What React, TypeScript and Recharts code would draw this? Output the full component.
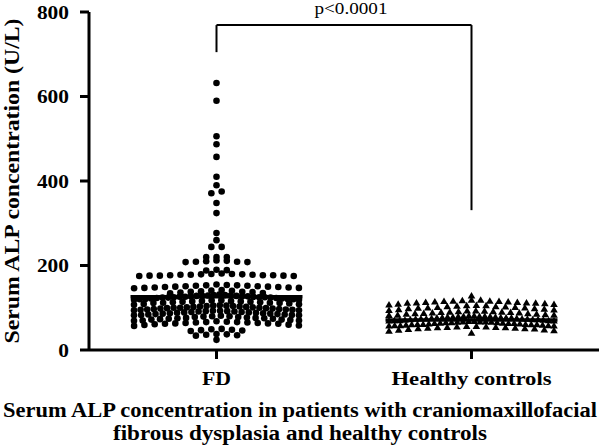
import React from 'react';
import { ScatterChart, Scatter, XAxis, YAxis, ReferenceLine } from 'recharts';

// values (U/L), one entry per dot
const fdValues = [
  632, 590, 506, 487, 457, 410, 390, 375, 371, 348, 324, 277, 260, 244, 244, 220, 220, 220,
  212, 211, 210, 209, 209, 208, 208,
  190, 189, 188,
  181, 180, 180, 179, 179, 178, 178, 178, 177, 177, 177, 176, 176, 176, 175, 175,
  155, 154, 153, 153, 152, 152, 151, 151, 150, 150, 149, 149, 148, 148, 147, 147, 146,
  142, 141, 140, 139, 138, 138, 137, 136, 135, 134,
  131, 130, 130, 129, 129, 128, 128, 128, 127, 127, 127, 126, 126, 126, 125, 125, 125, 124, 124, 124,
  123, 123, 122, 122, 121, 121, 120, 120, 119, 119,
  118, 117, 116, 116, 115, 115, 114, 114, 113, 113, 112, 112, 111, 111, 110, 109, 108, 107,
  106, 105, 105, 104, 104, 103, 103, 102, 102, 101, 101, 100, 100, 100, 99, 99, 98, 98, 97, 97, 96, 96, 95, 95, 94, 94,
  93, 93, 92, 92, 91, 91, 90, 90, 89, 89, 88, 88, 87, 87, 86, 86, 85, 85, 84, 84, 83, 83, 82, 82,
  81, 80, 80, 79, 78, 78, 77, 76, 76, 75, 75, 74, 74, 73, 72, 72, 71, 70, 70, 69,
  68, 67, 66, 66, 65, 65, 64, 64, 63, 63, 62, 62, 61, 60, 59, 58, 57,
  50, 49, 48, 47, 46, 45,
  38, 37, 36, 35, 34,
  24,
];

const hcValues = [
  128,
  118, 118, 117, 116, 116, 115, 115, 114, 114, 113, 113, 112, 112, 111, 111, 110, 109, 108, 107,
  106, 105, 105, 104, 103, 103, 102, 101, 101, 100, 100, 99, 98, 98, 97, 96, 95, 94,
  93, 93, 92, 91, 91, 90, 90, 89, 89, 88, 88, 87, 86, 86, 85, 85, 84, 83, 83, 82,
  81, 81, 80, 80, 80, 79, 79, 78, 78, 78, 77, 77, 76, 76, 76, 75, 75, 74, 74, 74, 73, 73, 72, 72, 72, 71, 71, 70, 70, 70, 69, 69,
  68, 68, 67, 67, 67, 66, 66, 65, 65, 65, 64, 64, 63, 63, 63, 62, 62, 61, 61, 61, 60, 60, 60, 59, 59, 58, 58, 58, 57, 57,
  56, 56, 55, 55, 54, 54, 53, 53, 52, 52, 51, 51, 50, 49, 48, 47, 46, 45,
  40,
];

const categories = ['FD', 'Healthy controls'];
const yTicks = [0, 200, 400, 600, 800];
const medians = [126, 71];
// bracket: FD leg bottom, bar height, controls leg bottom
const bracket = [705, 769, 331];
const pLabel = 'p<0.0001';

const W = 600;
const H = 447;
const PLOT_LEFT = 89;
const PLOT_RIGHT = 599;
const PLOT_TOP = 12;
const PLOT_BOTTOM = 350;
const PX_PER_UNIT = (PLOT_RIGHT - PLOT_LEFT) / 2;

const BIN = 12.5;
const STEP_PX = 10.3;
const MAX_WIDTH_PX = 165;
const serif = '"Liberation Serif", "Times New Roman", serif';

// GraphPad-like column scatter: values in the same row are spread sideways
function swarm(values: number[], center: number) {
  const bins = new Map<number, number[]>();
  values.forEach((v) => {
    const k = Math.round(v / BIN);
    if (!bins.has(k)) bins.set(k, []);
    bins.get(k)!.push(v);
  });
  const pts: { x: number; y: number }[] = [];
  bins.forEach((list) => {
    list.sort((a, b) => b - a);
    const n = list.length;
    const step = n > 1 ? Math.min(STEP_PX, MAX_WIDTH_PX / (n - 1)) : 0;
    const slots = Array.from({ length: n }, (_, k) => (k - (n - 1) / 2) * step);
    slots.sort((a, b) => Math.abs(a) - Math.abs(b) || b - a);
    list.forEach((v, i) => pts.push({ x: center + slots[i] / PX_PER_UNIT, y: v }));
  });
  return pts;
}

const fdPoints = swarm(fdValues, 0.5);
const hcPoints = swarm(hcValues, 1.5);

const Dot = (p: any) => <circle cx={p.cx} cy={p.cy} r={3.3} fill="#000" />;
const Tri = (p: any) => (
  <polygon
    points={`${p.cx},${p.cy - 3.8} ${p.cx + 3.8},${p.cy + 2.7} ${p.cx - 3.8},${p.cy + 2.7}`}
    fill="#000"
  />
);

const YTick = ({ x, y, payload }: any) => {
  const s = String(payload.value);
  return (
    <text x={x - 9} y={y + 6.5} textAnchor="end" fontFamily={serif} fontWeight="bold" fontSize={19}
      textLength={s.length * 10.7} lengthAdjust="spacingAndGlyphs" fill="#000">
      {s}
    </text>
  );
};

const XTick = ({ x, y, payload }: any) => {
  const s = categories[Math.floor(payload.value)];
  return (
    <text x={x} y={y + 24} textAnchor="middle" fontFamily={serif} fontWeight="bold" fontSize={19}
      textLength={s === 'FD' ? 29 : 160} lengthAdjust="spacingAndGlyphs" fill="#000">
      {s}
    </text>
  );
};

const YLabel = () => (
  <text x={19} y={181} transform="rotate(-90, 19, 181)" textAnchor="middle" fontFamily={serif}
    fontWeight="bold" fontSize={22} textLength={325} lengthAdjust="spacingAndGlyphs" fill="#000">
    Serum ALP concentration (U/L)
  </text>
);

const Caption = () => (
  <g>
    <text x={300} y={417} textAnchor="middle" fontFamily={serif} fontWeight="bold" fontSize={20}
      textLength={594} lengthAdjust="spacingAndGlyphs" fill="#000">
      Serum ALP concentration in patients with craniomaxillofacial
    </text>
    <text x={300} y={440} textAnchor="middle" fontFamily={serif} fontWeight="bold" fontSize={20}
      textLength={374} lengthAdjust="spacingAndGlyphs" fill="#000">
      fibrous dysplasia and healthy controls
    </text>
  </g>
);

const PText = ({ viewBox }: any) => (
  <text x={viewBox.x + viewBox.width / 2 + 7} y={viewBox.y - 11} textAnchor="middle" fontFamily={serif}
    fontSize={16} textLength={73} lengthAdjust="spacingAndGlyphs" fill="#000">
    {pLabel}
  </text>
);

const HALF = 86 / PX_PER_UNIT;

export default function App() {
  return (
    <div style={{ position: 'absolute', left: 0, top: 0, width: W, height: H, background: '#fff' }}>
      <ScatterChart
        width={W}
        height={H}
        margin={{ top: PLOT_TOP, right: W - PLOT_RIGHT, left: 0, bottom: H - PLOT_BOTTOM - 30 }}
      >
        <XAxis
          type="number"
          dataKey="x"
          domain={[0, 2]}
          ticks={[0.5, 1.5]}
          height={30}
          tickSize={9}
          axisLine={{ stroke: '#000', strokeWidth: 3 }}
          tickLine={{ stroke: '#000', strokeWidth: 3 }}
          tick={<XTick />}
          label={() => <Caption />}
        />
        <YAxis
          type="number"
          dataKey="y"
          domain={[0, 800]}
          ticks={yTicks}
          width={PLOT_LEFT}
          tickSize={9}
          axisLine={{ stroke: '#000', strokeWidth: 3 }}
          tickLine={{ stroke: '#000', strokeWidth: 3 }}
          tick={<YTick />}
          label={() => <YLabel />}
        />
        <Scatter data={fdPoints} shape={Dot} isAnimationActive={false} />
        <Scatter data={hcPoints} shape={Tri} isAnimationActive={false} />
        {medians.map((m, i) => (
          <ReferenceLine
            key={i}
            segment={[{ x: i + 0.5 - HALF, y: m }, { x: i + 0.5 + HALF, y: m }]}
            stroke="#000"
            strokeWidth={3.5}
          />
        ))}
        <ReferenceLine segment={[{ x: 0.5, y: bracket[0] }, { x: 0.5, y: bracket[1] }]} stroke="#000" strokeWidth={2} />
        <ReferenceLine
          segment={[{ x: 0.5, y: bracket[1] }, { x: 1.5, y: bracket[1] }]}
          stroke="#000"
          strokeWidth={2}
          label={PText}
        />
        <ReferenceLine segment={[{ x: 1.5, y: bracket[1] }, { x: 1.5, y: bracket[2] }]} stroke="#000" strokeWidth={2} />
      </ScatterChart>
    </div>
  );
}
